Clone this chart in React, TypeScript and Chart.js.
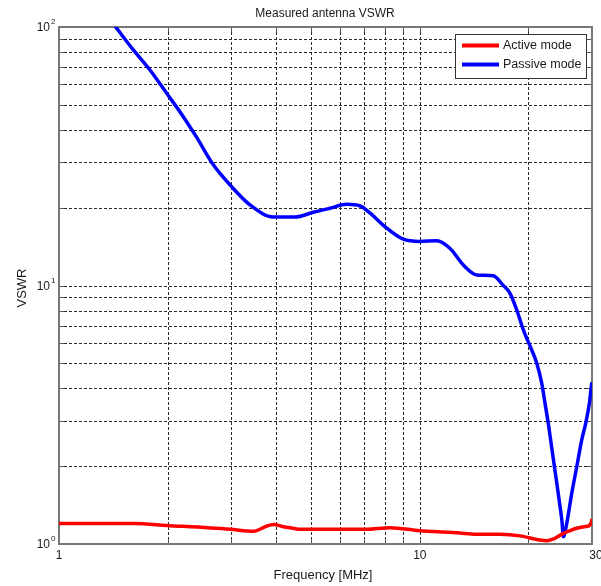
import React, { useEffect, useRef } from "react";
import { Chart, registerables } from "chart.js";

Chart.register(...registerables);

// Passive mode (blue) — frequency [MHz] and VSWR
const passiveFreq = [1.367, 1.436, 1.607, 1.787, 1.988, 2.21, 2.408, 2.677, 2.978, 3.383, 3.927, 4.51, 5.07, 5.64, 6.27, 6.83, 7.3, 7.92, 9.0, 10.0, 11.14, 12.13, 13.2, 14.38, 15.98, 17.03, 17.78, 18.56, 19.36, 20.42, 21.09, 21.77, 22.23, 22.71, 23.25, 23.85, 24.46, 24.78, 24.98, 25.53, 26.36, 27.22, 28.1, 28.88, 29.5, 29.95, 30.0];
const passiveVswr = [109, 100, 81.5, 68.2, 55.4, 45.0, 37.4, 29.3, 24.5, 20.5, 18.4, 18.4, 19.2, 19.9, 20.6, 20.3, 19.0, 17.1, 15.1, 14.8, 14.9, 13.9, 12.0, 10.98, 10.9, 10.0, 9.33, 8.04, 6.73, 5.63, 5.0, 4.18, 3.5, 2.91, 2.31, 1.8, 1.4, 1.217, 1.067, 1.2, 1.57, 1.99, 2.53, 2.97, 3.5, 4.18, 4.22];

// Active mode (red)
const activeFreq = [1.0, 1.61, 1.99, 2.98, 3.46, 3.53, 3.77, 3.93, 4.18, 4.46, 4.66, 7.1, 8.27, 10.0, 12.1, 15.0, 16.69, 18.96, 21.5, 22.5, 23.4, 25.0, 26.2, 27.2, 28.6, 29.4, 29.9, 30.0];
const activeVswr = [1.2, 1.2, 1.18, 1.14, 1.12, 1.126, 1.174, 1.19, 1.167, 1.15, 1.14, 1.14, 1.157, 1.126, 1.11, 1.09, 1.09, 1.075, 1.036, 1.03, 1.045, 1.1, 1.13, 1.15, 1.167, 1.175, 1.22, 1.25];

const seriesNames = ["Active mode", "Passive mode"];
const xGridValues = [1, 2, 3, 4, 5, 6, 7, 8, 9, 10, 20, 30];
const yGridValues = [1, 2, 3, 4, 5, 6, 7, 8, 9, 10, 20, 30, 40, 50, 60, 70, 80, 90, 100];
const xTickLabels = [1, 10, 30];
const yTickExponents = [0, 1, 2];

const FONT = '"Liberation Sans", Arial, sans-serif';

const decorPlugin = {
  id: "matlabDecor",
  beforeDatasetsDraw(chart: any) {
    const { ctx, chartArea } = chart;
    const xs = chart.scales.x;
    const ys = chart.scales.y;
    const { left, right, top, bottom } = chartArea;
    ctx.save();
    // grid
    ctx.strokeStyle = "#2a2a2a";
    ctx.lineWidth = 1;
    ctx.setLineDash([3, 2]);
    xGridValues.forEach((v) => {
      const px = Math.round(xs.getPixelForValue(v)) + 0.5;
      ctx.beginPath();
      ctx.moveTo(px, top);
      ctx.lineTo(px, bottom);
      ctx.stroke();
    });
    yGridValues.forEach((v) => {
      const py = Math.round(ys.getPixelForValue(v)) + 0.5;
      ctx.beginPath();
      ctx.moveTo(left, py);
      ctx.lineTo(right, py);
      ctx.stroke();
    });
    ctx.setLineDash([]);
    // inner ticks
    ctx.strokeStyle = "#555";
    ctx.lineWidth = 1;
    const tl = 5;
    xGridValues.forEach((v) => {
      const px = Math.round(xs.getPixelForValue(v)) + 0.5;
      ctx.beginPath();
      ctx.moveTo(px, bottom);
      ctx.lineTo(px, bottom - tl);
      ctx.moveTo(px, top);
      ctx.lineTo(px, top + tl);
      ctx.stroke();
    });
    yGridValues.forEach((v) => {
      const py = Math.round(ys.getPixelForValue(v)) + 0.5;
      ctx.beginPath();
      ctx.moveTo(left, py);
      ctx.lineTo(left + tl, py);
      ctx.moveTo(right, py);
      ctx.lineTo(right - tl, py);
      ctx.stroke();
    });
    // box
    ctx.strokeStyle = "#777";
    ctx.lineWidth = 2;
    ctx.strokeRect(left, top, right - left, bottom - top);
    ctx.restore();
  },
  afterDraw(chart: any) {
    const { ctx } = chart;
    const xs = chart.scales.x;
    const ys = chart.scales.y;
    ctx.save();
    ctx.fillStyle = "#1a1a1a";
    // title
    ctx.font = `12px ${FONT}`;
    ctx.textAlign = "center";
    ctx.textBaseline = "middle";
    ctx.fillText("Measured antenna VSWR", 325, 14);
    // x label
    ctx.font = `13px ${FONT}`;
    ctx.fillText("Frequency [MHz]", 323, 575);
    // y label
    ctx.save();
    ctx.translate(22, 288);
    ctx.rotate(-Math.PI / 2);
    ctx.fillText("VSWR", 0, 0);
    ctx.restore();
    // x tick labels
    ctx.font = `12px ${FONT}`;
    xTickLabels.forEach((v) => {
      let px = xs.getPixelForValue(v);
      if (v === 30) px += 4;
      ctx.fillText(String(v), px, 556);
    });
    // y tick labels
    yTickExponents.forEach((e) => {
      const py = ys.getPixelForValue(Math.pow(10, e));
      ctx.font = `12px ${FONT}`;
      ctx.textAlign = "right";
      ctx.fillText("10", 50, py + 1);
      ctx.font = `8px ${FONT}`;
      ctx.textAlign = "left";
      ctx.fillText(String(e), 51, py - 5);
    });
    // legend
    const lx = 455.5, ly = 34.5, lw = 131, lh = 44;
    ctx.fillStyle = "#fff";
    ctx.fillRect(lx, ly, lw, lh);
    ctx.strokeStyle = "#333";
    ctx.lineWidth = 1;
    ctx.strokeRect(lx, ly, lw, lh);
    const colors = ["#ff0000", "#0000ff"];
    const rowsY = [45.5, 64.5];
    seriesNames.forEach((name, i) => {
      ctx.strokeStyle = colors[i];
      ctx.lineWidth = 4;
      ctx.beginPath();
      ctx.moveTo(462, rowsY[i]);
      ctx.lineTo(499, rowsY[i]);
      ctx.stroke();
      ctx.fillStyle = "#1a1a1a";
      ctx.font = `12.5px ${FONT}`;
      ctx.textAlign = "left";
      ctx.textBaseline = "middle";
      ctx.fillText(name, 503, rowsY[i] + 0.5);
    });
    ctx.restore();
  },
};

export default function App() {
  const ref = useRef<HTMLCanvasElement | null>(null);
  useEffect(() => {
    if (!ref.current) return;
    const chart = new Chart(ref.current, {
      type: "line",
      data: {
        datasets: [
          {
            label: seriesNames[0],
            data: activeFreq.map((f, i) => ({ x: f, y: activeVswr[i] })),
            borderColor: "#ff0000",
            borderWidth: 3.5,
            pointRadius: 0,
            cubicInterpolationMode: "monotone",
            clip: 0,
          },
          {
            label: seriesNames[1],
            data: passiveFreq.map((f, i) => ({ x: f, y: passiveVswr[i] })),
            borderColor: "#0000ff",
            borderWidth: 3.5,
            pointRadius: 0,
            cubicInterpolationMode: "monotone",
            clip: 0,
          },
        ],
      },
      options: {
        responsive: false,
        animation: false,
        devicePixelRatio: 1,
        layout: { padding: { left: 59, right: 9, top: 27, bottom: 42 } },
        plugins: { legend: { display: false }, tooltip: { enabled: false }, title: { display: false } },
        scales: {
          x: {
            type: "logarithmic",
            min: 1,
            max: 30,
            ticks: { display: false },
            grid: { display: false },
            border: { display: false },
            afterFit: (s: any) => { s.height = 0; },
          },
          y: {
            type: "logarithmic",
            min: 1,
            max: 100,
            ticks: { display: false },
            grid: { display: false },
            border: { display: false },
            afterFit: (s: any) => { s.width = 0; },
          },
        },
      } as any,
      plugins: [decorPlugin],
    });
    return () => chart.destroy();
  }, []);
  return (
    <div style={{ position: "absolute", left: 0, top: 0, width: 601, height: 586, background: "#fff" }}>
      <canvas ref={ref} width={601} height={586} />
    </div>
  );
}
